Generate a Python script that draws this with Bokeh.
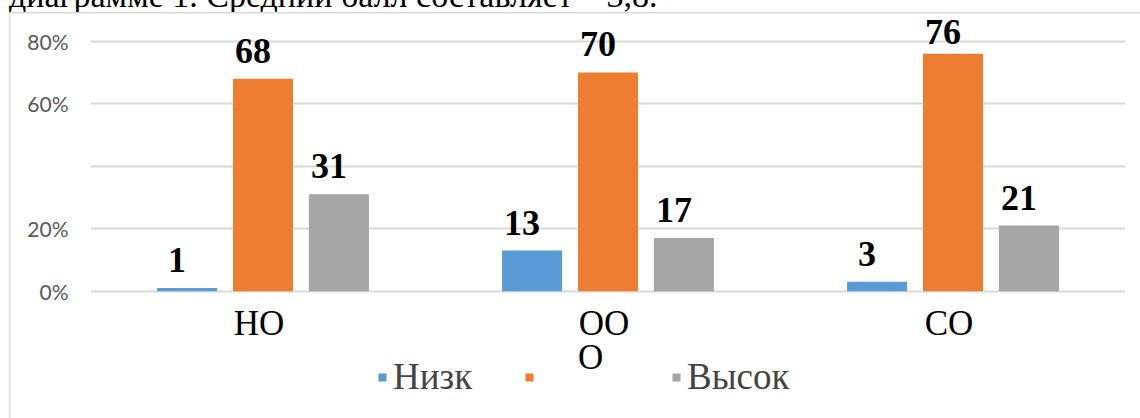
from bokeh.plotting import figure
from bokeh.layouts import column
from bokeh.models import (ColumnDataSource, FactorRange, Range1d, FixedTicker, Legend,
                          LegendItem, Div)
from bokeh.transform import dodge
from bokeh.core.properties import value
from bokeh.embed import file_html
from bokeh.resources import INLINE

# ---- data ----
categories = ["НО", "ООО", "СО"]
cat_line1 = ["НО", "ОО", "СО"]      # Excel wrapped "ООО" onto two lines
cat_line2 = ["", "О", ""]
series_names = ["Низк", "", "Высок"]
low_vals = [1, 13, 3]
mid_vals = [68, 70, 76]
high_vals = [31, 17, 21]
y_ticks = [0, 20, 40, 60, 80]
y_tick_labels = ["0%", "20%", "", "60%", "80%"]
caption = "диаграмме 1. Средний балл составляет – 3,8."

colors = ["#5B9BD5", "#ED7D31", "#A5A5A5"]
offsets = [-0.22, 0.0, 0.22]
LABEL_CEIL = 74   # Excel keeps data labels inside the chart area

def label_y(vals):
    return [min(v, LABEL_CEIL) for v in vals]

src = ColumnDataSource(dict(cat=categories, low=low_vals, mid=mid_vals, high=high_vals,
                            low_t=[str(v) for v in low_vals],
                            mid_t=[str(v) for v in mid_vals],
                            high_t=[str(v) for v in high_vals],
                            low_y=label_y(low_vals), mid_y=label_y(mid_vals),
                            high_y=label_y(high_vals),
                            l1=cat_line1, l2=cat_line2, zero=[0] * len(categories)))

# document text above the chart; its upper part is cut off by the page edge
cap_div = Div(text=('<div style="position:relative; top:-20px; left:9px; white-space:nowrap; '
                    'font-family:\'Liberation Serif\'; font-size:34px; line-height:32px; '
                    'color:black;">' + caption + '</div>'),
              width=1140, height=12, margin=0, styles={"overflow": "hidden"})

# light grey border of the embedded chart area (CSS background under a transparent canvas)
border_css = {
    "background-image": "linear-gradient(#d9d9d9, #d9d9d9), linear-gradient(#d9d9d9, #d9d9d9)",
    "background-repeat": "no-repeat",
    "background-size": "1.5px 420px, 1140px 1.5px",
    "background-position": "8.5px 0px, 8.5px 0px",
}

p = figure(x_range=FactorRange(*categories), y_range=Range1d(-40.74, 89.18),
           width=1140, height=406, output_backend="svg", toolbar_location=None,
           min_border_left=90, min_border_right=15, min_border_top=0, min_border_bottom=0,
           margin=0, styles=border_css)
p.outline_line_color = None
p.background_fill_alpha = 0
p.border_fill_alpha = 0

renderers = []
for col, off, c in zip(["low", "mid", "high"], offsets, colors):
    r = p.vbar(x=dodge("cat", off, range=p.x_range), top=col, width=0.174, source=src,
               fill_color=c, line_color=None)
    renderers.append(r)
    p.text(x=dodge("cat", off, range=p.x_range), y=col + "_y", text=col + "_t", source=src,
           text_font=value("Liberation Serif"), text_font_style="bold",
           text_font_size="36px", text_color="black", text_align="center",
           text_baseline="alphabetic", x_offset=-10, y_offset=-28)

# category labels (drawn as text under the zero line)
p.text(x="cat", y="zero", text="l1", source=src, text_font=value("Liberation Serif"),
       text_font_size="35px", text_color="black", text_align="center",
       text_baseline="alphabetic", x_offset=-4, y_offset=32)
p.text(x="cat", y="zero", text="l2", source=src, text_font=value("Liberation Serif"),
       text_font_size="35px", text_color="black", text_align="left",
       text_baseline="alphabetic", x_offset=-30, y_offset=66)

# axes
p.xaxis.visible = False
p.xgrid.grid_line_color = None
p.ygrid.grid_line_color = "#d9d9d9"
p.ygrid.grid_line_width = 2
p.yaxis.ticker = FixedTicker(ticks=y_ticks)
p.yaxis.major_label_overrides = {t: l for t, l in zip(y_ticks, y_tick_labels)}
p.yaxis.axis_line_color = None
p.yaxis.major_tick_line_color = None
p.yaxis.minor_tick_line_color = None
p.yaxis.major_label_text_font = "Lato"
p.yaxis.major_label_text_font_size = "21px"
p.yaxis.major_label_text_color = "#595959"
p.yaxis.major_label_standoff = 16

legend = Legend(items=[LegendItem(label=value(n), renderers=[r])
                       for n, r in zip(series_names, renderers)],
                location=(287, 20), orientation="horizontal",
                glyph_width=10, glyph_height=10, label_standoff=6, spacing=21,
                label_width=110, label_text_font="Liberation Serif",
                label_text_font_size="37px", padding=0, margin=0,
                border_line_color=None, background_fill_alpha=0)
p.add_layout(legend)

page = column(cap_div, p, spacing=0)

open("out.html", "w").write(file_html(page, INLINE))
